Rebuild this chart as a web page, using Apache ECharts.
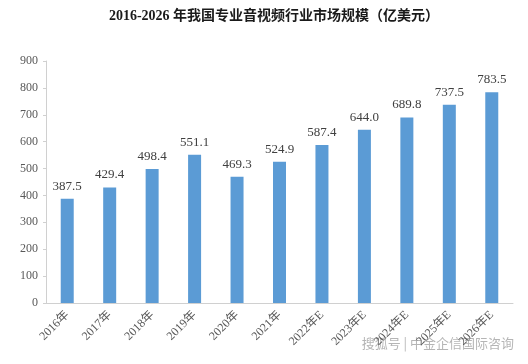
<!DOCTYPE html>
<html><head><meta charset="utf-8">
<script src="https://cdn.jsdelivr.net/npm/echarts@6/dist/echarts.min.js"></script>
<style>html,body{margin:0;padding:0;background:#fff}#c{width:528px;height:364px}</style>
</head><body><div id="c"></div>
<script>
var categories = ['2016年','2017年','2018年','2019年','2020年','2021年','2022年E','2023年E','2024年E','2025年E','2026年E'];
var values = [387.5, 429.4, 498.4, 551.1, 469.3, 524.9, 587.4, 644.0, 689.8, 737.5, 783.5];
var yTicks = [0, 100, 200, 300, 400, 500, 600, 700, 800, 900];
var titleText = '2016-2026 年我国专业音视频行业市场规模（亿美元）';
var watermark = '搜狐号 | 中金企信国际咨询';
var serif = '"Liberation Serif","Noto Sans CJK SC",serif';
var chart = echarts.init(document.getElementById('c'), null, {renderer:'canvas'});
chart.setOption({
  backgroundColor:'#fff',
  animation:false,
  title:{text:titleText,left:269,textAlign:'center',top:4,
    textStyle:{fontFamily:serif,fontWeight:'bold',fontSize:14,color:'#1a1a1a'}},
  graphic:[{type:'text',right:14,bottom:14,style:{text:watermark,fontSize:13,fill:'rgba(120,120,120,0.55)',fontFamily:'"Noto Sans CJK SC",sans-serif'}}],
  grid:{left:46,right:15,top:61,bottom:61,containLabel:false},
  xAxis:{type:'category',data:categories,
    axisLine:{lineStyle:{color:'#d0d0d0'}},
    axisTick:{show:false},
    axisLabel:{rotate:45,interval:0,fontFamily:serif,fontSize:12,color:'#595959',margin:10}},
  yAxis:{type:'value',min:0,max:900,interval:100,
    axisLine:{show:true,lineStyle:{color:'#d0d0d0'}},
    axisTick:{show:true,length:3,lineStyle:{color:'#d0d0d0'}},
    splitLine:{show:false},
    axisLabel:{fontFamily:serif,fontSize:12,color:'#595959',margin:8,
      formatter:function(v){return yTicks.indexOf(v)>=0?String(v):'';}}},
  series:[{type:'bar',data:values,barWidth:13,
    itemStyle:{color:'#5b9bd5'},
    label:{show:true,position:'top',distance:6,fontFamily:serif,fontSize:13,color:'#404040',
      formatter:function(p){return p.value.toFixed(1);}}}]
});
</script></body></html>
